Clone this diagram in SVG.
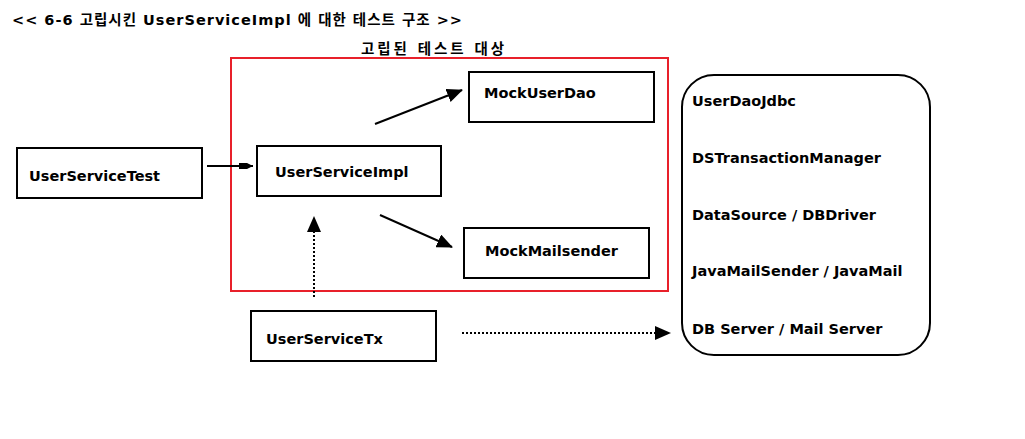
<svg xmlns="http://www.w3.org/2000/svg" width="1025" height="439" viewBox="0 0 1025 439">
<style>
text{font-family:"DejaVu Sans","Noto Sans CJK KR",sans-serif;font-weight:bold;font-size:14.5px;fill:#000}
.box{fill:#fff;stroke:#000;stroke-width:2}
.ln{stroke:#000;stroke-width:2;fill:none}
.dot{stroke:#000;stroke-width:2;fill:none;stroke-dasharray:2 2}
</style>
<defs>
<marker id="big" markerWidth="16" markerHeight="14" refX="15" refY="7" orient="auto" markerUnits="userSpaceOnUse" viewBox="0 0 16 14">
<path d="M0,0 L16,7 L0,14 z" fill="#000"/>
</marker>
<marker id="small" markerWidth="14" markerHeight="8" refX="14" refY="4" orient="auto" markerUnits="userSpaceOnUse" viewBox="0 0 14 8">
<path d="M0,1 L8,1 L14,4 L8,7 L0,7 z" fill="#000"/>
</marker>
</defs>
<rect width="1025" height="439" fill="#fff"/>
<text id="title" x="12" y="25" font-size="14.5" textLength="450" lengthAdjust="spacing">&lt;&lt; 6-6 고립시킨 UserServiceImpl 에 대한 테스트 구조 &gt;&gt;</text>
<g id="isolated">
<rect x="231" y="58" width="437" height="233" fill="none" stroke="#e8202a" stroke-width="2"/>
<text x="361" y="54" font-size="15" textLength="143" lengthAdjust="spacing">고립된 테스트 대상</text>
</g>
<g id="UserServiceTest"><rect class="box" x="17" y="148" width="185" height="50"/><text x="29" y="181">UserServiceTest</text></g>
<g id="UserServiceImpl"><rect class="box" x="257" y="146" width="184" height="50"/><text x="275" y="177">UserServiceImpl</text></g>
<g id="MockUserDao"><rect class="box" x="469" y="72" width="185" height="50"/><text x="484" y="98">MockUserDao</text></g>
<g id="MockMailsender"><rect class="box" x="464" y="228" width="185" height="50"/><text x="485" y="256">MockMailsender</text></g>
<g id="UserServiceTx"><rect class="box" x="251" y="311" width="185" height="50"/><text x="266" y="344">UserServiceTx</text></g>
<g id="Infra">
<rect class="box" x="682" y="75" width="248" height="280" rx="32" ry="32"/>
<text x="692" y="106">UserDaoJdbc</text>
<text x="692" y="163">DSTransactionManager</text>
<text x="692" y="220">DataSource / DBDriver</text>
<text x="692" y="276">JavaMailSender / JavaMail</text>
<text x="692" y="334">DB Server / Mail Server</text>
</g>
<g id="connectors">
<line class="ln" x1="207" y1="166" x2="253" y2="166" marker-end="url(#small)"/>
<line class="ln" x1="375" y1="124" x2="462" y2="90" marker-end="url(#big)"/>
<line class="ln" x1="380" y1="215" x2="452" y2="247" marker-end="url(#big)"/>
<line class="dot" x1="314" y1="297" x2="314" y2="217" marker-end="url(#big)"/>
<line class="dot" x1="462" y1="333" x2="670" y2="333" marker-end="url(#big)"/>
</g>
</svg>
